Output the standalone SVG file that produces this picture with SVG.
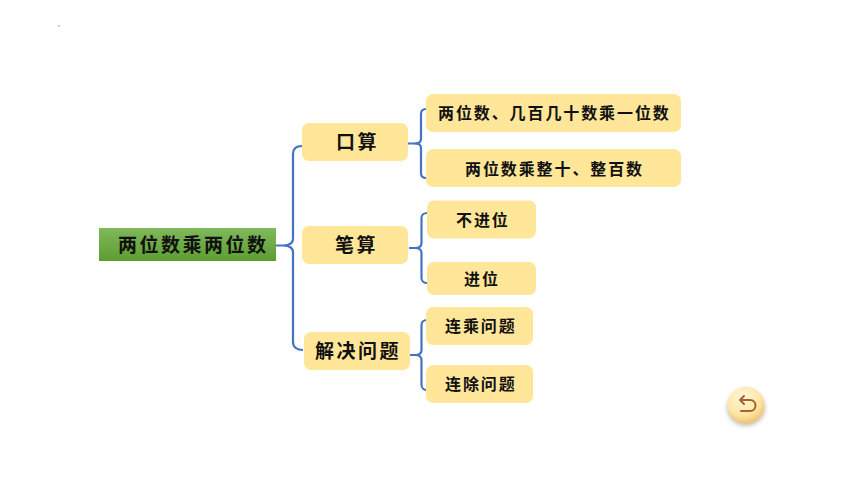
<svg xmlns="http://www.w3.org/2000/svg" width="860" height="484" viewBox="0 0 860 484">
<style>
.box{fill:#ffe699}
.t{font-family:"Noto Sans CJK SC","Liberation Sans",sans-serif;font-weight:700;fill:#111;dominant-baseline:central}
.l1{font-size:19px;letter-spacing:2.5px}
.l2{font-size:16px;letter-spacing:1.9px}
.c{fill:none;stroke:#4472c4;stroke-width:2.2}
</style>
<defs>
<linearGradient id="rootFill" x1="0" y1="0" x2="0" y2="1"><stop offset="0" stop-color="#80b85c"/><stop offset="1" stop-color="#5c9e31"/></linearGradient>
<radialGradient id="btn" cx="0.42" cy="0.3" r="0.78"><stop offset="0" stop-color="#fff6dc"/><stop offset="0.6" stop-color="#fee6a6"/><stop offset="1" stop-color="#ecb95c"/></radialGradient>
<filter id="blur" x="-30%" y="-30%" width="160%" height="160%"><feGaussianBlur stdDeviation="2"/></filter>
</defs>
<rect x="58.500" y="25" width="1" height="1.500" fill="#888"/>
<g id="connectors">
<path class="c" d="M276 245.500H284C289 245.500 293 243 293 239V154C293 149 296 146 302 146"/>
<path class="c" d="M284 245.500C289 245.500 293 248 293 252V342C293 347 297 350 303 350"/>
<path class="c" d="M408 143.500H415C419 143.500 421 142 421 139V114C421 111 423 109 426 109"/>
<path class="c" d="M415 143.500C419 143.500 421 145 421 148V173C421 176 423 178 426 178"/>
<path class="c" d="M409 248H415C419 248 421.500 246 421.500 243V218C421.500 215 424 213 427 213"/>
<path class="c" d="M415 248C419 248 421.500 250 421.500 253V278C421.500 281 424 283 427 283"/>
<path class="c" d="M410 355H415C419 355 421.500 353 421.500 350V325C421.500 322 424 320 427 320"/>
<path class="c" d="M415 355C419 355 421.500 357 421.500 360V385C421.500 388 424 390 427 390"/>
</g>
<g id="root"><rect x="99" y="228" width="177" height="33" fill="url(#rootFill)"/><text class="t l1" x="118" y="243.500">两位数乘两位数</text></g>
<g id="n1"><rect class="box" x="302" y="123" width="106" height="38" rx="7"/><text class="t l1" x="336" y="140.500">口算</text></g>
<g id="n2"><rect class="box" x="302" y="226" width="106" height="38" rx="7"/><text class="t l1" x="335" y="243.500">笔算</text></g>
<g id="n3"><rect class="box" x="304" y="332" width="106" height="38" rx="7"/><text class="t l1" x="315" y="349.500">解决问题</text></g>
<g id="leaf1"><rect class="box" x="426" y="94" width="255" height="38" rx="7"/><text class="t l2" x="438" y="112">两位数、几百几十数乘一位数</text></g>
<g id="leaf2"><rect class="box" x="426" y="149" width="255" height="38" rx="7"/><text class="t l2" x="465" y="167.500">两位数乘整十、整百数</text></g>
<g id="leaf3"><rect class="box" x="427" y="200.500" width="109" height="38" rx="7"/><text class="t l2" x="456" y="218.500">不进位</text></g>
<g id="leaf4"><rect class="box" x="427" y="262" width="109" height="33" rx="7"/><text class="t l2" x="464" y="277.500">进位</text></g>
<g id="leaf5"><rect class="box" x="426" y="307" width="107" height="38" rx="7"/><text class="t l2" x="445" y="325">连乘问题</text></g>
<g id="leaf6"><rect class="box" x="426" y="365" width="107" height="38" rx="7"/><text class="t l2" x="445" y="383">连除问题</text></g>
<g id="back">
<ellipse cx="746" cy="408" rx="19" ry="18" fill="#8a7a5a" opacity="0.45" filter="url(#blur)"/>
<circle cx="746" cy="405" r="18.500" fill="url(#btn)"/>
<path d="M740 400H750C753.500 400 755.500 402.500 755.500 405.500C755.500 408.500 753.500 411 750 411H741M744 396L740 400L744 404" fill="none" stroke="#a5622a" stroke-width="2" stroke-linecap="round" stroke-linejoin="round"/>
</g>
</svg>
